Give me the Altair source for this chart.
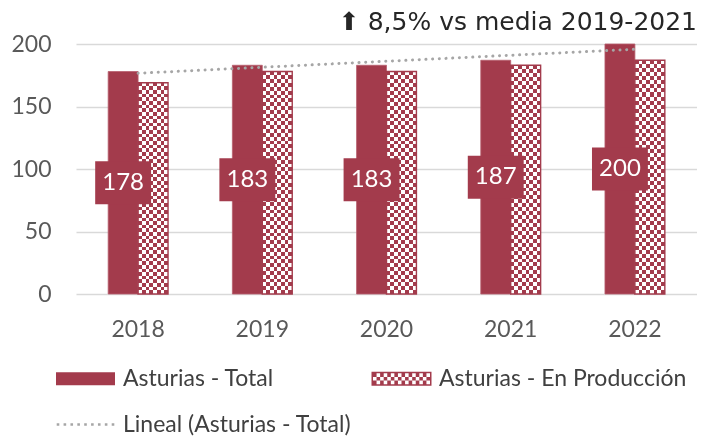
import altair as alt
import pandas as pd

# ---- data ----
years = [2018, 2019, 2020, 2021, 2022]
total = [178, 183, 183, 187, 200]
produccion = [169, 178, 178, 183, 187]
series_names = ["Asturias - Total", "Asturias - En Producción", "Lineal (Asturias - Total)"]
y_ticks = [0, 50, 100, 150, 200]
title_text = "⬆ 8,5% vs media 2019-2021"

RED = "#A33B4C"
GRAY_LINE = "#A6A6A6"
GRID = "#D9D9D9"
AXIS_TXT = "#595959"

rows = []
for yr, t, p in zip(years, total, produccion):
    rows.append({"year": yr, "series": series_names[0], "value": t})
    rows.append({"year": yr, "series": series_names[1], "value": p})
df = pd.DataFrame(rows)


def stripes(n, vertical_gradient):
    stops = []
    for i in range(n):
        c = "#000000" if i % 2 == 0 else "#ffffff"
        stops.append({"offset": i / n, "color": c})
        stops.append({"offset": (i + 1) / n, "color": c})
    g = {"gradient": "linear", "stops": stops, "x1": 0, "y1": 0}
    if vertical_gradient:
        g.update(x2=0, y2=1)
    else:
        g.update(x2=1, y2=0)
    return g


# ---- legend symbol paths (unit = sqrt(size)/2 = 6.5 px) ----
U = 6.5
def rect(x0, y0, x1, y1, ccw=False):
    if ccw:
        return f"M{x0:.3f},{y0:.3f}V{y1:.3f}H{x1:.3f}V{y0:.3f}Z"
    return f"M{x0:.3f},{y0:.3f}H{x1:.3f}V{y1:.3f}H{x0:.3f}Z"

P_TOTAL = rect(-29.5 / U, -6.5 / U, 29.5 / U, 6.5 / U)
aw, ah = 30 / U, 7 / U
iw, ih = 28.5 / U, 5.5 / U
parts = [rect(-aw, -ah, aw, ah), rect(-iw, -ih, iw, ih, ccw=True)]
ncol, nrow = 16, 3
cw, rh = 2 * iw / ncol, 2 * ih / nrow
for r in range(nrow):
    for c in range(ncol):
        if (r + c) % 2 == 0:
            parts.append(rect(-iw + c * cw, -ih + r * rh, -iw + (c + 1) * cw, -ih + (r + 1) * rh))
P_PROD = "".join(parts)
dots = []
for k in range(9):
    cx = (-27.5 + k * 55 / 8) / U
    d = 1.3 / U
    dots.append(rect(cx - d, -d, cx + d, d))
P_LIN = "".join(dots)

# ---- scales / axes ----
xscale = alt.Scale(paddingInner=0.518, paddingOuter=0.259)
xaxis = alt.Axis(title=None, labelAngle=0, domain=False, ticks=False, grid=False,
                 labelFont="Lato", labelFontSize=23, labelColor=AXIS_TXT, labelPadding=24)
yscale = alt.Scale(domain=[0, 200], nice=False)
yaxis = alt.Axis(title=None, values=y_ticks, domain=False, ticks=False,
                 labelFont="Lato", labelFontSize=23, labelColor=AXIS_TXT, labelPadding=25,
                 gridColor=GRID, gridWidth=1.3)

def X():
    return alt.X("year:O", scale=xscale, axis=xaxis)

def Y(field):
    return alt.Y(f"{field}:Q", scale=yscale, axis=yaxis)

xoff = alt.XOffset("series:N", scale=alt.Scale(domain=series_names[:2]))

base = alt.Chart(df)
tot = base.transform_filter(alt.datum.series == series_names[0])
prod = base.transform_filter(alt.datum.series == series_names[1])

legend = alt.Legend(
    title=None, orient="none", legendX=-25, legendY=323, columns=2, direction="horizontal",
    columnPadding=15, rowPadding=22, symbolSize=169, symbolStrokeWidth=0,
    symbolOffset=23, labelOffset=26, labelFont="Lato", labelFontSize=23,
    labelColor="#404040", labelLimit=500, padding=0, symbolOpacity=1,
)

bars_total = tot.mark_bar(fill=RED, stroke="#B8606E", strokeWidth=0.8).encode(
    x=X(), xOffset=xoff, y=Y("value"))
prod_a = prod.mark_bar(fill=stripes(8, False)).encode(x=X(), xOffset=xoff, y=Y("value"))
prod_b = prod.mark_bar(fill=stripes(58, True), blend="difference").encode(x=X(), xOffset=xoff, y=Y("value"))
prod_c = prod.mark_bar(fill=RED, blend="screen").encode(x=X(), xOffset=xoff, y=Y("value"))
prod_d = prod.mark_bar(fillOpacity=0, stroke=RED, strokeWidth=1.4).encode(x=X(), xOffset=xoff, y=Y("value"))

trend = tot.transform_regression("year", "value").mark_line(
    color=GRAY_LINE, strokeWidth=3, strokeDash=[0.1, 6.6], strokeCap="round"
).encode(x=X(), y=Y("value"))

# invisible points that only carry the legend (colour + shape per series)
legend_pts = tot.mark_point(filled=True, opacity=0, size=169).encode(
    x=X(), xOffset=xoff, y=Y("value"),
    color=alt.Color("series:N", scale=alt.Scale(domain=series_names, range=[RED, RED, GRAY_LINE]),
                    legend=legend),
    shape=alt.Shape("series:N", scale=alt.Scale(domain=series_names, range=[P_TOTAL, P_PROD, P_LIN]),
                    legend=legend),
)

boxes = tot.transform_calculate(mid="datum.value / 2").mark_point(
    shape="M-1.3,-1H1.3V1H-1.3Z", size=1849, filled=True, color=RED, opacity=1, strokeWidth=0
).encode(x=X(), xOffset=xoff, y=Y("mid"))

labels = tot.transform_calculate(mid="datum.value / 2").mark_text(
    font="Lato", fontSize=24, color="white", baseline="middle", align="center"
).encode(x=X(), xOffset=xoff, y=Y("mid"), text=alt.Text("value:Q"))

chart = alt.layer(bars_total, prod_a, prod_b, prod_c, prod_d, trend, legend_pts, boxes, labels).properties(
    width=621, height=250,
    padding={"left": 2, "top": 2, "right": 0, "bottom": 0},
    title=alt.Title(title_text, anchor="end", font="DejaVu Sans", fontSize=25,
                    fontWeight="normal", color="#262626", offset=-2),
    background="white",
).configure_view(stroke=None)

chart.save("out.html", embed_options={"renderer": "svg", "actions": False})
